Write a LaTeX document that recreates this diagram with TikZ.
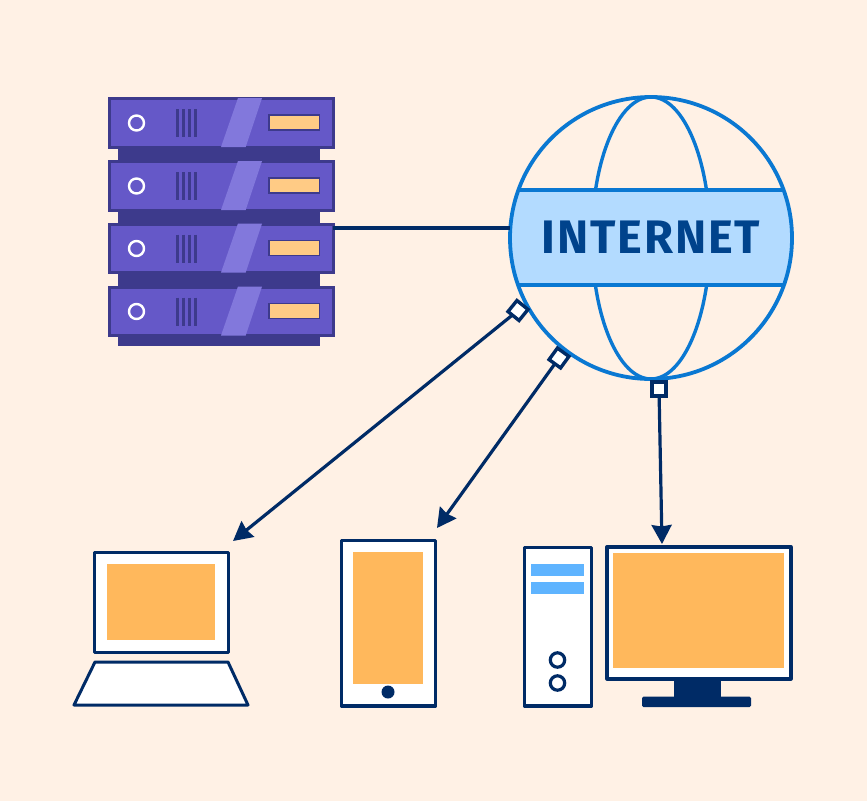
\documentclass[tikz,border=0pt]{standalone}
\usepackage{fontspec}
\setmainfont{Fira Sans}
\usetikzlibrary{arrows.meta}
\definecolor{bgc}{HTML}{FFF1E5}
\definecolor{navy}{HTML}{002B66}
\definecolor{srvface}{HTML}{6558C8}
\definecolor{srvedge}{HTML}{3D3A8C}
\definecolor{srvshine}{HTML}{8278DC}
\definecolor{amber}{HTML}{FFB85C}
\definecolor{paleamber}{HTML}{FFCB85}
\definecolor{globeblue}{HTML}{0A78D2}
\definecolor{bandblue}{HTML}{B3DBFF}
\definecolor{barblue}{HTML}{5FB4FF}
\definecolor{inktext}{HTML}{00438C}
\tikzset{
  box/.style={draw,rectangle,inner sep=0pt,outer sep=0pt,anchor=north west},
  srvbox/.style={box,draw=srvedge,fill=srvface,line width=3pt,minimum width=224pt,minimum height=48.5pt},
  srvbase/.style={box,draw=none,fill=srvedge,minimum width=202pt,minimum height=14pt},
  devbox/.style={box,draw=navy,fill=white,line join=round},
  screen/.style={box,draw=none,fill=amber},
  port/.style={draw=navy,fill=white,line width=3.4pt,rectangle,inner sep=0pt,outer sep=0pt,minimum size=14.2pt},
  link/.style={draw=navy,line width=3.2pt},
  arrowlink/.style={link,-{Stealth[length=19pt,width=20pt,inset=1.5pt]}},
  ring/.style={draw=navy,line width=3.2pt,circle,inner sep=0pt,outer sep=0pt,minimum size=14.4pt},
  globeline/.style={draw=globeblue,line width=3.8pt}
}
\newcommand{\serverunit}[2]{%
  \fill[srvshine] (238,#2) -- (262,#2) -- (245.7,#2+49) -- (221,#2+49) -- cycle;
  \node[draw=white,line width=2.4pt,circle,inner sep=0pt,minimum size=15pt] (led#1) at (136.5,#2+25) {};
  \foreach \bx in {177.3,183.5,189.5,195.7}
    \draw[srvedge,line width=2.6pt] (\bx,#2+11) -- (\bx,#2+39);
  \node[box,draw=srvedge,fill=paleamber,line width=1.2pt,minimum width=50.5pt,minimum height=15pt] (slot#1) at (269,#2+17) {};
}
\begin{document}
\begin{tikzpicture}[x=1pt,y=-1pt]
\useasboundingbox (0,0) rectangle (867,801);
\fill[bgc] (0,0) rectangle (867,801);

% server stack
\node[srvbase] (base1) at (117.5,147) {};
\node[srvbase] (base2) at (117.5,209.5) {};
\node[srvbase] (base3) at (117.5,272) {};
\node[srvbase,minimum height=11pt] (base4) at (117.5,335) {};
\node[srvbox] (srv1) at (109,98.5) {};
\node[srvbox] (srv2) at (109,161.5) {};
\node[srvbox] (srv3) at (109,224) {};
\node[srvbox] (srv4) at (109,287) {};
\serverunit{1}{98}
\serverunit{2}{161}
\serverunit{3}{223.5}
\serverunit{4}{286.5}

% globe
\node[draw=none,fill=none,circle,inner sep=0pt,outer sep=0pt,minimum size=282pt] (globe) at (651,238) {};
\begin{scope}
  \clip (651,238) circle[radius=141];
  \fill[bandblue] (500,190) rectangle (800,285);
  \draw[globeline] (500,190) -- (800,190);
  \draw[globeline] (500,285) -- (800,285);
\end{scope}
\begin{scope}
  \clip (500,90) rectangle (800,190) (500,285) rectangle (800,385);
  \draw[globeline,line width=3.4pt] (651,238) ellipse[x radius=59,y radius=141];
\end{scope}
\draw[globeline] (651,238) circle[radius=141];
\node[inner sep=0pt,text=inktext,font=\fontsize{47}{47}\selectfont\bfseries] (inet) at (651,237) {\addfontfeature{LetterSpace=4}INTERNET};

% laptop
\node[devbox,line width=3pt,minimum width=134pt,minimum height=100pt] (lapscreen) at (94,552) {};
\node[screen,minimum width=108pt,minimum height=76pt] (lappanel) at (107,564) {};
\draw[navy,fill=white,line width=3pt,line join=round] (95,662) -- (228,662) -- (248,705) -- (74,705) -- cycle;

% tablet
\node[devbox,line width=3.2pt,minimum width=94pt,minimum height=165.5pt] (tablet) at (341.5,540.5) {};
\node[screen,minimum width=70pt,minimum height=132pt] (tabpanel) at (353,552) {};
\node[fill=navy,circle,inner sep=0pt,minimum size=13pt] (tabbtn) at (388,692) {};

% tower
\node[devbox,line width=3.4pt,minimum width=67pt,minimum height=158.5pt] (tower) at (524.5,547.5) {};
\node[box,draw=none,fill=barblue,minimum width=53pt,minimum height=12.5pt] (bay1) at (531,563.5) {};
\node[box,draw=none,fill=barblue,minimum width=53pt,minimum height=12.5pt] (bay2) at (531,581.5) {};
\node[ring] (knob1) at (557.5,660) {};
\node[ring] (knob2) at (557.5,683) {};

% monitor
\node[box,draw=none,fill=navy,minimum width=47pt,minimum height=20pt] (stand) at (674,678) {};
\node[box,draw=none,fill=navy,rounded corners=1.5pt,minimum width=109pt,minimum height=10.5pt] (foot) at (642,696.5) {};
\node[devbox,line width=4pt,minimum width=183.5pt,minimum height=131.5pt] (monitor) at (607.2,547) {};
\node[screen,minimum width=171pt,minimum height=115pt] (monpanel) at (613,553) {};

% connector ends
\coordinate (srvport) at (333,228);
\coordinate (globeport) at (509.5,228);
\coordinate (laptip) at (233,541);
\coordinate (tabtip) at (437,528);
\coordinate (montip) at (662,544);

% connectors
\draw[link] (srvport) -- (globeport);
\node[port,rotate=-39] (port1) at (518,310.5) {};
\node[port,rotate=-36] (port2) at (559,358) {};
\node[port] (port3) at (659,389) {};
\draw[arrowlink] (port1) -- (laptip);
\draw[arrowlink] (port2) -- (tabtip);
\draw[arrowlink] (port3) -- (montip);
\end{tikzpicture}
\end{document}
